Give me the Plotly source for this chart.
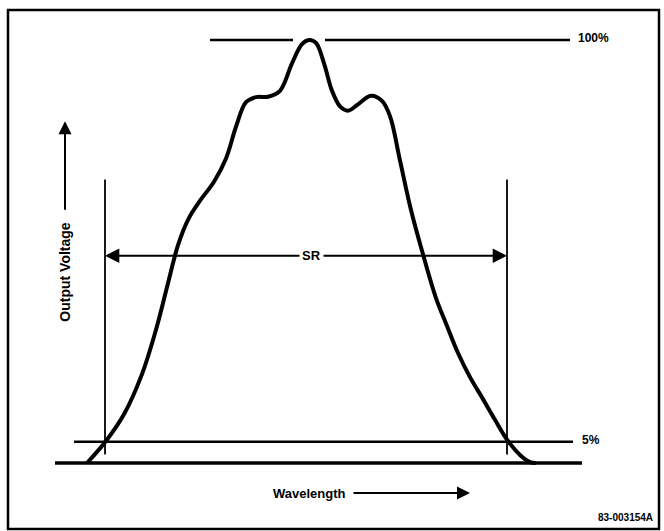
import plotly.graph_objects as go

# ---- data (wavelength in arbitrary units, output in % of peak) ----
wavelength = [87, 106, 124, 142, 156, 168, 178, 188, 200, 214, 226, 236, 246, 256, 268, 280, 292, 302, 309,
              316, 324, 332, 340, 348, 358, 371, 382, 390, 400, 411, 424, 436, 447, 458, 470, 483, 495, 508,
              520, 530, 536]
output_pct = [0, 5.2, 11.5, 21.0, 31.5, 42.5, 51.5, 57.5, 62.0, 66.5, 72.0, 79.5, 85.3, 86.5, 86.6, 88.0,
              94.5, 99.0, 100, 99.3, 94.5, 88.0, 84.3, 83.3, 84.8, 86.8, 85.6, 82.0, 71.5, 59.8, 48.5, 39.0,
              32.4, 26.0, 20.3, 15.1, 10.2, 5.2, 1.9, 0.2, 0]

level_100 = 100
level_5 = 5
sr_edges = [105, 507]          # spectral range limits (wavelength units)
sr_level = 49                  # height of the SR dimension arrow (%)
baseline_span = [55, 582]
line5_span = [74, 573]
line100_spans = [[210, 293], [325, 570]]

label_100 = "100%"
label_5 = "5%"
label_sr = "SR"
label_y = "Output Voltage"
label_x = "Wavelength"
fig_id = "83-003154A"

# axis mapping: pixel-like x, percent y
X_RANGE = [0, 664]
Y_RANGE = [-16.08, 109.46]

FONT = dict(family="Liberation Sans, Arial, sans-serif", color="black", size=13, weight="bold")

fig = go.Figure()

# spectral response curve
fig.add_trace(go.Scatter(x=wavelength, y=output_pct, mode="lines",
                         line=dict(color="black", width=4, shape="spline", smoothing=1.0),
                         hoverinfo="skip", showlegend=False))

shapes = []
# baseline
shapes.append(dict(type="line", xref="x", yref="y", x0=baseline_span[0], x1=baseline_span[1],
                   y0=0, y1=0, line=dict(color="black", width=3.5)))
# 5% line
shapes.append(dict(type="line", xref="x", yref="y", x0=line5_span[0], x1=line5_span[1],
                   y0=level_5, y1=level_5, line=dict(color="black", width=2.5)))
# 100% line with gap around the peak
for s in line100_spans:
    shapes.append(dict(type="line", xref="x", yref="y", x0=s[0], x1=s[1],
                       y0=level_100, y1=level_100, line=dict(color="black", width=2.5)))
# SR vertical limits
for xe in sr_edges:
    shapes.append(dict(type="line", xref="x", yref="y", x0=xe, x1=xe,
                       y0=2, y1=67, line=dict(color="black", width=1.8)))
# frame
shapes.append(dict(type="rect", xref="x", yref="y", x0=8, x1=659, y0=-15.6, y1=107.1,
                   line=dict(color="black", width=2.5)))

annotations = []
sr_mid = (sr_edges[0] + sr_edges[1]) / 2 + 5
# SR dimension arrows
for xe in sr_edges:
    annotations.append(dict(x=xe, y=sr_level, ax=sr_mid, ay=sr_level, xref="x", yref="y",
                            axref="x", ayref="y", showarrow=True, arrowhead=2, arrowsize=1.3,
                            arrowwidth=2.2, arrowcolor="black", text=""))
annotations.append(dict(x=sr_mid, y=sr_level, xref="x", yref="y", text=label_sr, showarrow=False,
                        bgcolor="white", font=FONT, borderpad=2))
# Y arrow
annotations.append(dict(x=65, y=80.8, ax=65, ay=59.5, xref="x", yref="y", axref="x", ayref="y",
                        showarrow=True, arrowhead=2, arrowsize=1.3, arrowwidth=2, arrowcolor="black",
                        text=""))
annotations.append(dict(x=65, y=45.0, xref="x", yref="y", text=label_y, textangle=-90,
                        showarrow=False, font=dict(FONT, size=14)))
# X arrow
annotations.append(dict(x=470, y=-7.1, ax=352, ay=-7.1, xref="x", yref="y", axref="x", ayref="y",
                        showarrow=True, arrowhead=2, arrowsize=1.3, arrowwidth=2, arrowcolor="black",
                        text=""))
annotations.append(dict(x=309, y=-7.1, xref="x", yref="y", text=label_x, showarrow=False, font=FONT))
# level labels
annotations.append(dict(x=576, y=100.5, xref="x", yref="y", text=label_100, showarrow=False,
                        xanchor="left", font=dict(FONT, size=12)))
annotations.append(dict(x=580, y=5.5, xref="x", yref="y", text=label_5, showarrow=False,
                        xanchor="left", font=dict(FONT, size=12)))
annotations.append(dict(x=655, y=-13.0, xref="x", yref="y", text=fig_id, showarrow=False,
                        xanchor="right", font=dict(FONT, size=10)))

fig.update_layout(
    width=664, height=531, margin=dict(l=0, r=0, t=0, b=0),
    paper_bgcolor="white", plot_bgcolor="white",
    xaxis=dict(range=X_RANGE, visible=False, fixedrange=True),
    yaxis=dict(range=Y_RANGE, visible=False, fixedrange=True),
    shapes=shapes, annotations=annotations, showlegend=False,
)

fig.write_html("out.html", config={"displayModeBar": False},
               post_script="document.body.style.margin='0px';document.body.style.overflow='hidden';")
